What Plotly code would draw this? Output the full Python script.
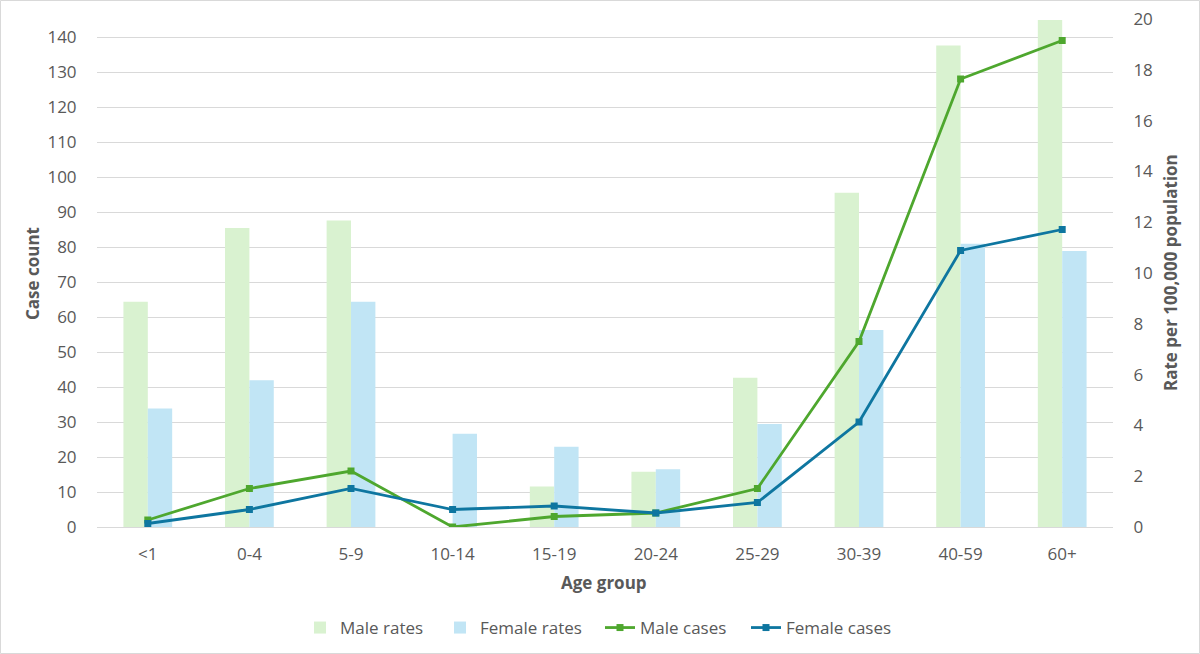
import plotly.graph_objects as go

categories = ["<1", "0-4", "5-9", "10-14", "15-19", "20-24", "25-29", "30-39", "40-59", "60+"]
male_rates = [8.87, 11.77, 12.07, 0, 1.59, 2.18, 5.88, 13.16, 18.96, 19.96]
female_rates = [4.67, 5.78, 8.87, 3.67, 3.16, 2.27, 4.06, 7.76, 11.15, 10.87]
male_cases = [2, 11, 16, 0, 3, 4, 11, 53, 128, 139]
female_cases = [1, 5, 11, 5, 6, 4, 7, 30, 79, 85]
left_ticks = list(range(0, 150, 10))
right_ticks = list(range(0, 22, 2))

FONT = "Open Sans"
TXT = "#595959"
W, H = 1200, 654
L, R, T, B = 97, 87, 19, 127
PW, PH = W - L - R, H - T - B

fig = go.Figure()
# bars on the (right-hand) rate axis, drawn first
fig.add_trace(go.Bar(x=categories, y=male_rates, name="Male rates", yaxis="y", legend="legend",
                     marker=dict(color="#D9F2D0", line=dict(width=0)), offsetgroup="m"))
fig.add_trace(go.Bar(x=categories, y=female_rates, name="Female rates", yaxis="y", legend="legend2",
                     marker=dict(color="#C1E5F5", line=dict(width=0)), offsetgroup="f"))
# lines on the (left-hand) case-count axis, overlaid on top
fig.add_trace(go.Scatter(x=categories, y=male_cases, name="Male cases", mode="lines+markers", yaxis="y2",
                         legend="legend3", line=dict(color="#4EA72E", width=2.8),
                         marker=dict(symbol="square", size=7, color="#4EA72E")))
fig.add_trace(go.Scatter(x=categories, y=female_cases, name="Female cases", mode="lines+markers", yaxis="y2",
                         legend="legend4", line=dict(color="#0E76A0", width=2.8),
                         marker=dict(symbol="square", size=7, color="#0E76A0")))

LEG_Y = -(628 - 527) / PH
def leg(text_start):
    return dict(orientation="h", x=(text_start - 41 - L) / PW, xanchor="left", y=LEG_Y, yanchor="middle",
                font=dict(size=17, color=TXT), itemwidth=30, bgcolor="rgba(0,0,0,0)")

fig.update_layout(
    width=W, height=H,
    margin=dict(l=L, r=R, t=T, b=B, autoexpand=False),
    paper_bgcolor="white", plot_bgcolor="white",
    font=dict(family=FONT, size=17, color=TXT),
    barmode="group", bargap=0.52, bargroupgap=0,
    showlegend=True,
    legend=leg(341), legend2=leg(481), legend3=leg(641), legend4=leg(787),
    xaxis=dict(type="category", range=[-0.5, len(categories) - 0.5], showgrid=False,
               showline=True, linecolor="#D9D9D9", linewidth=1,
               ticks="outside", ticklen=12, tickcolor="rgba(0,0,0,0)",
               tickfont=dict(size=17, color=TXT), fixedrange=True),
    yaxis=dict(range=[0, 20], tickvals=right_ticks, side="right",
               showgrid=False, zeroline=False, showline=False,
               ticks="outside", ticklen=16, tickcolor="rgba(0,0,0,0)",
               tickfont=dict(size=17, color=TXT)),
    yaxis2=dict(range=[0, PH / 3.5], tickvals=left_ticks, overlaying="y", side="left",
                showgrid=True, gridcolor="#D9D9D9", gridwidth=1, zeroline=False, showline=False,
                ticks="outside", ticklen=16, tickcolor="rgba(0,0,0,0)",
                tickfont=dict(size=17, color=TXT)),
    annotations=[
        dict(text="<b>Age group</b>", xref="paper", yref="paper", x=(604 - L) / PW, y=-(582 - 527) / PH,
             showarrow=False, xanchor="center", yanchor="middle", font=dict(size=17, color=TXT)),
        dict(text="<b>Case count</b>", xref="paper", yref="paper", x=-(L - 32) / PW, y=(527 - 274) / PH,
             showarrow=False, textangle=-90, xanchor="center", yanchor="middle", font=dict(size=17, color=TXT)),
        dict(text="<b>Rate per 100,000 population</b>", xref="paper", yref="paper", x=1 + (1170 - 1113) / PW,
             y=(527 - 273) / PH, showarrow=False, textangle=-90, xanchor="center", yanchor="middle",
             font=dict(size=17, color=TXT)),
    ],
    shapes=[dict(type="rect", xref="paper", yref="paper",
                 x0=-(L - 0.5) / PW, x1=1 + (R - 0.5) / PW,
                 y0=-(B - 0.5) / PH, y1=1 + (T - 0.5) / PH,
                 line=dict(color="#D9D9D9", width=1), fillcolor="rgba(0,0,0,0)", layer="below")],
)

fig.write_html("out.html", config={"displayModeBar": False},
               post_script="document.body.style.margin='0';document.body.style.padding='0';")
